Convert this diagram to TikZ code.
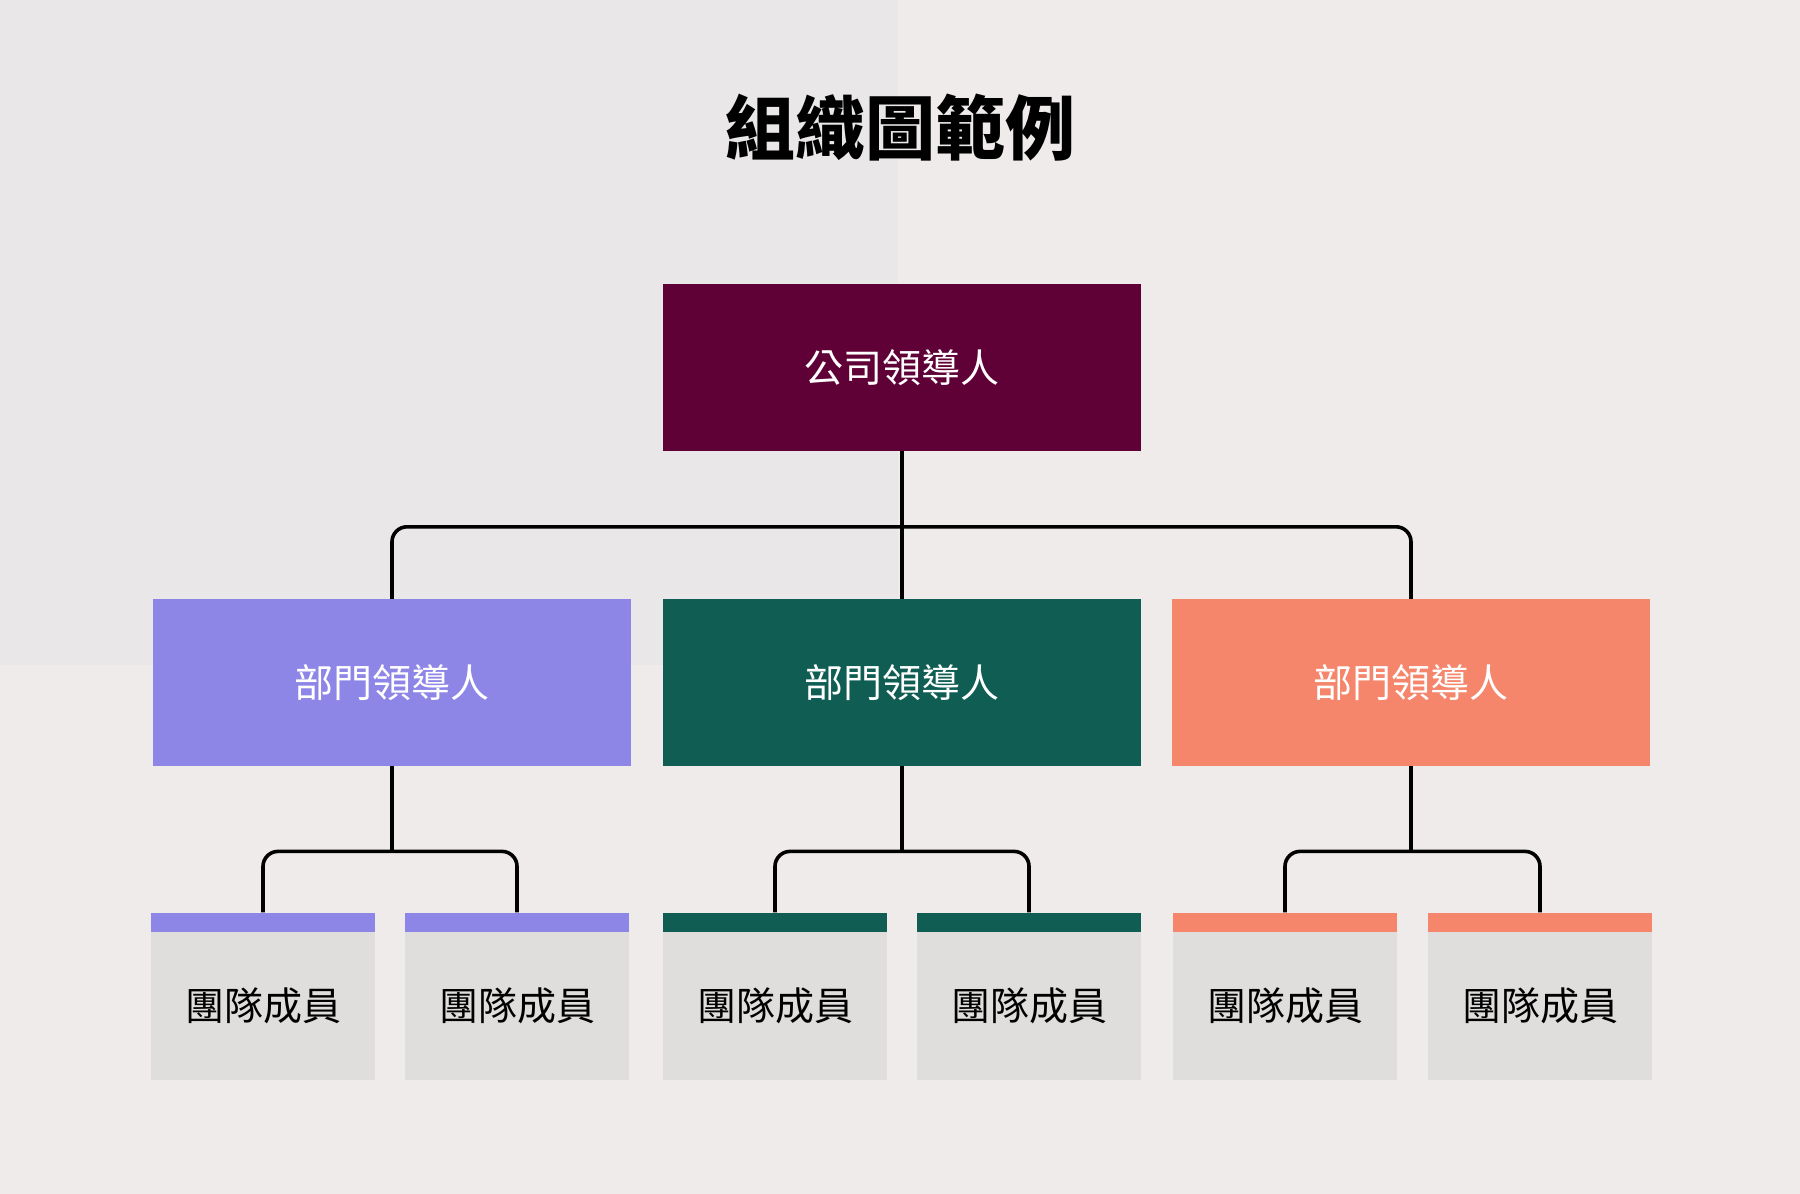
\documentclass[tikz,border=0pt]{standalone}
\usepackage{fontspec}
\newfontfamily\cjk{Noto Sans CJK TC}
\usetikzlibrary{positioning}

\definecolor{paper}{HTML}{EFEBEB}
\definecolor{paperdark}{HTML}{E9E7E7}
\definecolor{wine}{HTML}{5F0036}
\definecolor{lavender}{HTML}{8E86E6}
\definecolor{pine}{HTML}{0F5D53}
\definecolor{coral}{HTML}{F5866B}
\definecolor{membergray}{HTML}{E0DEDD}

\begin{document}
\begin{tikzpicture}[x=1pt,y=-1pt,on grid,
  box/.style={rectangle,minimum width=478pt,minimum height=167pt,inner sep=0pt,
    text=white,font=\cjk\fontsize{39}{45}\selectfont},
  member/.style={rectangle,fill=membergray,minimum width=224pt,minimum height=148pt,
    inner sep=0pt,font=\cjk\fontsize{39}{45}\selectfont},
  topbar/.style={rectangle,minimum width=224pt,minimum height=19pt,inner sep=0pt,anchor=south},
  link/.style={line width=3.6pt,rounded corners=15pt}]
  % background
  \fill[paper] (0,0) rectangle (1800,1194);
  \fill[paperdark] (0,0) rectangle (898,665);

  \node (title) at (900,128) {\cjk\bfseries\fontsize{70}{80}\selectfont 組織圖範例};

  \path
  node[box,fill=wine] (lead) at (902,367.5) {公司領導人}
  node[box,fill=pine] (dept2) [below=315pt of lead] {部門領導人}
  node[box,fill=lavender] (dept1) [left=510pt of dept2] {部門領導人}
  node[box,fill=coral] (dept3) [right=509pt of dept2] {部門領導人}
  ;
  \path
  node[member] (m11) [below left=323.5pt and 129pt of dept1] {團隊成員}
  node[member] (m12) [below right=323.5pt and 125pt of dept1] {團隊成員}
  node[member] (m21) [below left=323.5pt and 127pt of dept2] {團隊成員}
  node[member] (m22) [below right=323.5pt and 127pt of dept2] {團隊成員}
  node[member] (m31) [below left=323.5pt and 126pt of dept3] {團隊成員}
  node[member] (m32) [below right=323.5pt and 129pt of dept3] {團隊成員}
  ;
  \node[topbar,fill=lavender] (b11) at (m11.north) {};
  \node[topbar,fill=lavender] (b12) at (m12.north) {};
  \node[topbar,fill=pine] (b21) at (m21.north) {};
  \node[topbar,fill=pine] (b22) at (m22.north) {};
  \node[topbar,fill=coral] (b31) at (m31.north) {};
  \node[topbar,fill=coral] (b32) at (m32.north) {};

  % connectors
  \draw[link] (lead.south) -- (dept2.north);
  \draw[link] (dept1.north) -- ++(0,-72) -| (dept3.north);
  \foreach \d in {1,2,3}{
    \draw[link] (dept\d.south) -- ++(0,86);
    \draw[link] (b\d1.north) -- ++(0,-61) -| (b\d2.north);
  }
\end{tikzpicture}
\end{document}
